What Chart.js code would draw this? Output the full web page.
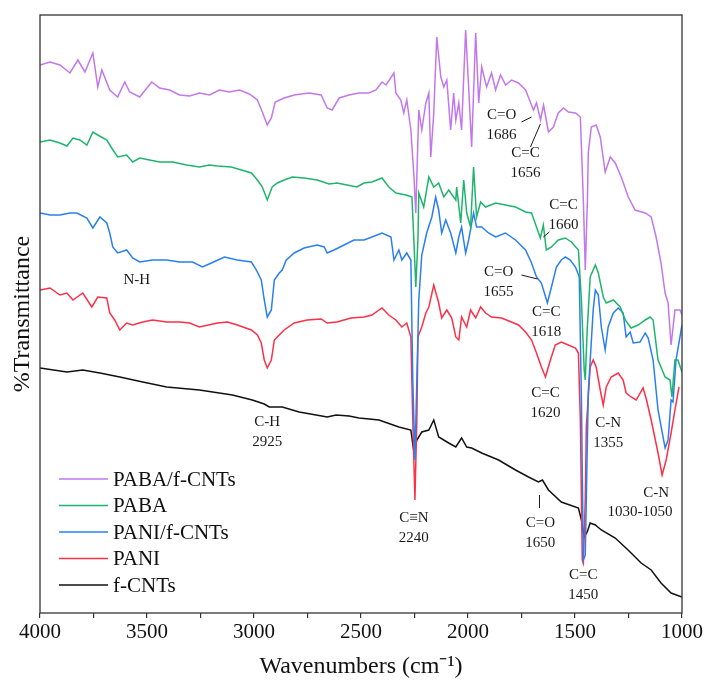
<!DOCTYPE html>
<html>
<head>
<meta charset="utf-8">
<script src="https://cdn.jsdelivr.net/npm/chart.js@4.4.1/dist/chart.umd.min.js"></script>
<style>
  html, body { margin: 0; padding: 0; background: #fff; }
  #wrap { width: 705px; height: 681px; }
</style>
</head>
<body>
<div id="wrap"><canvas id="ftir" width="705" height="681"></canvas></div>
<script>
// Wavenumbers (cm-1) and transmittance (arbitrary offset units)
const pabaCntWn = [4000,3953,3907,3860,3823,3790,3753,3730,3711,3674,
  3637,3604,3581,3534,3478,3441,3394,3348,3301,3255,
  3208,3162,3115,3068,3022,2984,2961,2938,2919,2901,
  2859,2812,2742,2686,2658,2635,2602,2556,2509,2463,
  2430,2402,2383,2346,2337,2314,2300,2286,2267,2253,
  2244,2230,2216,2197,2183,2174,2160,2146,2127,2113,
  2099,2081,2067,2057,2043,2030,2011,1997,1983,1964,
  1950,1936,1913,1890,1871,1848,1824,1797,1764,1731,
  1694,1680,1661,1647,1624,1601,1578,1554,1531,1498,
  1475,1461,1452,1442,1438,1424,1401,1382,1359,1335,
  1312,1284,1251,1219,1172,1144,1121,1098,1079,1065,
  1051,1033,1009,1000];
const pabaCntT = [109.6,110.2,109.6,108,110.6,108.2,112,105.2,108.6,104.6,
  103.2,106.2,104.2,103.2,106.2,105,104.6,103.6,103.4,104,
  103.6,104.6,104.2,104.6,103.8,102.6,100.2,97.6,99,102.2,
  103,103.6,104,103.6,101,100.6,103,103.6,104,104,
  104.6,106.2,105.6,108,104,102.6,100,102.6,96.6,87.6,
  80,100.6,96.6,102,104,91.2,100,115.2,107.2,105.2,
  106.6,96.6,104,98.6,102,96.6,116.6,105.2,93.2,116,
  102,109.2,105.2,108,104.6,107.6,105.6,106.6,106,104.6,
  100.6,102,98.6,101.6,96.2,97.2,100,101,100.2,100,
  99.2,82.6,68.6,82.6,92,97.2,97.6,95.2,88.2,91.2,
  90,87.2,83.2,80.6,80,79.2,75.2,70,64,62,
  53.6,60.6,60.6,59.6];

const pabaWn = [4000,3953,3907,3874,3846,3814,3781,3753,3730,3688,
  3665,3637,3595,3567,3534,3488,3441,3380,3315,3255,
  3208,3171,3106,3059,3012,2984,2961,2938,2915,2891,
  2859,2821,2766,2705,2649,2612,2565,2519,2486,2449,
  2402,2370,2337,2290,2262,2253,2244,2234,2230,2207,
  2183,2160,2137,2113,2090,2057,2053,2034,2020,2006,
  1988,1974,1960,1941,1918,1871,1825,1778,1731,1703,
  1680,1662,1648,1634,1610,1578,1545,1517,1484,1470,
  1457,1452,1443,1429,1405,1391,1368,1354,1321,1289,
  1265,1238,1205,1172,1149,1135,1112,1079,1056,1047,
  1033,1019,1000];
const pabaT = [94.2,94.6,94,93.4,95,94.6,93.6,96.2,95.6,94.6,
  93,91.2,91.6,90.2,91,90.6,90.2,90.2,89.6,89.2,
  89.6,89.4,89.2,88.6,88,86.6,85.2,82.6,85.2,86,
  86.6,87.2,87,86.6,85.8,86,85.6,85.2,86,86.2,
  87,85.2,84,83.6,83.2,74.6,65.2,74.6,84,81.2,
  87.2,85.2,86,83.2,84.6,82.6,85.2,78,86.6,80,
  77.2,89.2,79.2,82.2,81.2,82,81.6,81.2,80.2,80,
  77.2,75,77.6,72.6,73.2,74.6,75,74.2,72.6,62.6,
  48.6,46.6,56.6,67.2,69.6,68,63.2,62,62.6,61.2,
  58.6,57,57.6,58.6,59.2,58.6,50.6,47.2,46.6,43.2,
  50.6,50.6,48.2];

const paniCntWn = [4000,3953,3907,3860,3828,3781,3753,3720,3688,3674,
  3660,3637,3595,3567,3534,3474,3408,3348,3287,3241,
  3199,3138,3078,3012,2989,2966,2952,2938,2919,2905,
  2882,2868,2849,2812,2766,2705,2672,2658,2626,2579,
  2533,2486,2449,2402,2360,2346,2323,2309,2286,2267,
  2258,2248,2239,2230,2216,2193,2169,2151,2137,2123,
  2104,2081,2057,2043,2030,2011,1997,1974,1960,1936,
  1904,1871,1825,1778,1731,1703,1680,1657,1629,1610,
  1587,1564,1545,1522,1498,1480,1470,1461,1452,1438,
  1415,1405,1391,1377,1359,1345,1321,1298,1275,1261,
  1242,1228,1196,1172,1158,1135,1112,1079,1065,1051,
  1042,1028,1000];
const paniCntT = [80,79.6,79.6,80,80,79,77,79.2,78,76,
  73.2,72,72.6,71,70.2,70.6,70.6,70.2,70.2,69.2,
  70,71.2,70.6,70.2,68.6,66.6,62.6,59.2,60.6,66.6,
  68,68.6,70.6,72,73,73.6,73.2,72,72.6,73.6,
  74.6,74.6,75.2,76,75.2,70.6,72.6,70.6,72,70.6,
  46.6,30.6,46.6,62.6,71.6,76,79.2,83.2,80.6,76,
  78.6,76,72,75.2,77.2,72,74.6,80,77.2,77.2,
  76,75.2,76,74.6,72.6,70,67.2,66,62,65.2,
  69.2,70.6,71.2,70.6,69.2,67.2,42.6,10.6,11.6,44,
  60.6,64.6,63.6,57.2,52.6,57.2,60,61,60,55.2,
  56.2,54,54.2,56,55,50.6,40.6,33,34.6,42.6,
  42.2,50.6,57.6];

const paniWn = [4000,3953,3907,3874,3846,3800,3758,3730,3688,3674,
  3651,3627,3595,3567,3520,3474,3408,3348,3301,3255,
  3171,3124,3078,3012,2984,2966,2952,2938,2919,2905,
  2882,2859,2812,2752,2686,2658,2612,2547,2486,2449,
  2402,2370,2337,2309,2286,2267,2258,2248,2239,2234,
  2216,2197,2183,2160,2137,2123,2099,2076,2057,2043,
  2030,2006,1988,1964,1941,1918,1890,1843,1797,1764,
  1731,1703,1680,1657,1638,1615,1592,1564,1531,1498,
  1484,1475,1466,1461,1452,1447,1429,1415,1401,1382,
  1368,1354,1331,1298,1275,1261,1238,1214,1182,1168,
  1144,1112,1093,1074,1051,1033,1014];
const paniT = [64.6,65,63.6,64,62.6,64,61.2,63.2,63,60,
  58.6,56.6,58,57.6,58.2,58.6,58.2,58.2,58,57.2,
  58,58.2,57.6,56.6,55.6,54,50.6,49,50.6,54.6,
  55.6,56.6,58,58.6,58.8,58,58.2,59,59.2,59.6,
  61,59.6,58.6,57.2,58,55.2,38.6,22.6,38.6,55.2,
  57.2,60,61.2,65.6,62,59,60.6,59,55.2,54.6,
  59.2,57.2,60.6,59,61.2,60,59.2,59,58.2,57.6,
  56.2,54.6,52,49.2,47.2,50.6,53.6,54.2,53.6,53,
  52,38.6,10.6,10,22.6,37.2,49.2,50.6,49.2,44.6,
  41.6,45.2,47.2,48,46.6,44,43.2,42.6,45,43,
  38.6,32,27.6,30.6,36,40.6,45.2];

const cntWn = [4000,3874,3800,3720,3627,3520,3408,3255,3101,3008,
  2952,2929,2868,2789,2710,2658,2616,2556,2509,2416,
  2323,2267,2253,2239,2216,2183,2160,2137,2090,2057,
  2030,2006,1983,1936,1857,1778,1717,1671,1652,1624,
  1564,1484,1470,1457,1443,1429,1405,1377,1312,1252,
  1191,1144,1098,1051,1000];
const cntT = [49,48.2,48.6,48,47.2,46.2,45.2,44.6,43.6,42.6,
  41.8,41.2,41.2,40.2,39.6,39.2,39.6,39.4,39,38.6,
  37.2,36.6,32.2,34.6,36.2,36.6,38.6,35.2,34,33.2,
  35,33.2,33,32,30.6,28.6,27.2,26.2,26.6,24.6,
  22.2,21,18.6,15.2,16.2,18,17.6,16.6,15,12.6,
  10,8.6,6,4,3.2];

const seriesNames = ["PABA/f-CNTs", "PABA", "PANI/f-CNTs", "PANI", "f-CNTs"];
const seriesColors = ["#c278ec", "#1fb46c", "#2a7ff0", "#fc3048", "#111111"];

// Band assignments written on the plot: [wavenumber, transmittance, lines]
const peakLabels = [
  [1843, 99.6, ["C=O", "1686"]],
  [1731, 92, ["C=C", "1656"]],
  [1554, 81.6, ["C=C", "1660"]],
  [1857, 68.2, ["C=O", "1655"]],
  [1634, 60.2, ["C=C", "1618"]],
  [3548, 66.6, ["N-H"]],
  [2938, 38.2, ["C-H", "2925"]],
  [1638, 44, ["C=C", "1620"]],
  [1345, 38, ["C-N", "1355"]],
  [2253, 19, ["C\u2261N", "2240"]],
  [1662, 18, ["C=O", "1650"]],
  [1461, 7.6, ["C=C", "1450"]],
  [1121, 24, ["C-N"]],
  [1196, 20.2, ["1030-1050"]]
];
const leaderLines = [
  [1750, 98.2, 1703, 99.2],
  [1708, 93.2, 1662, 97.8],
  [1648, 75.2, 1620, 76.2],
  [1750, 67.6, 1675, 66.8],
  [1666, 23.6, 1666, 21]
];

const serif = '"Liberation Serif", "Times New Roman", serif';

const decorations = {
  id: 'decorations',
  afterDatasetsDraw(chart) {
    const { ctx, chartArea: a, scales: { x, y } } = chart;
    ctx.save();

    // frame around the plot
    ctx.strokeStyle = '#333';
    ctx.lineWidth = 1.3;
    ctx.strokeRect(a.left, a.top, a.right - a.left, a.bottom - a.top);

    // band labels
    ctx.fillStyle = '#1a1a1a';
    ctx.font = '15px ' + serif;
    ctx.textAlign = 'center';
    ctx.textBaseline = 'middle';
    peakLabels.forEach(([wn, t, lines]) => {
      const px = x.getPixelForValue(wn);
      const py = y.getPixelForValue(t);
      lines.forEach((s, i) => ctx.fillText(s, px, py + i * 20));
    });
    ctx.strokeStyle = '#1a1a1a';
    ctx.lineWidth = 1;
    leaderLines.forEach(([w1, t1, w2, t2]) => {
      ctx.beginPath();
      ctx.moveTo(x.getPixelForValue(w1), y.getPixelForValue(t1));
      ctx.lineTo(x.getPixelForValue(w2), y.getPixelForValue(t2));
      ctx.stroke();
    });

    // legend, bottom left inside the plot
    ctx.font = '21px ' + serif;
    ctx.textAlign = 'left';
    chart.data.datasets.forEach((ds, i) => {
      const ly = a.bottom - 134 + i * 26.5;
      ctx.strokeStyle = ds.borderColor;
      ctx.lineWidth = 1.5;
      ctx.beginPath();
      ctx.moveTo(a.left + 19, ly);
      ctx.lineTo(a.left + 68, ly);
      ctx.stroke();
      ctx.fillStyle = '#111';
      ctx.fillText(ds.label, a.left + 73, ly + 1);
    });
    ctx.restore();
  }
};

const traces = [
  [pabaCntWn, pabaCntT],
  [pabaWn, pabaT],
  [paniCntWn, paniCntT],
  [paniWn, paniT],
  [cntWn, cntT]
];

new Chart(document.getElementById('ftir'), {
  type: 'line',
  data: {
    datasets: traces.map(([wn, t], i) => ({
      label: seriesNames[i],
      data: wn.map((w, k) => ({ x: w, y: t[k] })),
      borderColor: seriesColors[i],
      borderWidth: 1.5,
      pointRadius: 0,
      tension: 0,
      fill: false
    }))
  },
  options: {
    responsive: false,
    animation: false,
    layout: { padding: { top: 15, right: 21, left: 0, bottom: 0 } },
    plugins: {
      legend: { display: false },
      tooltip: { enabled: false }
    },
    scales: {
      x: {
        type: 'linear',
        reverse: true,
        min: 1000,
        max: 4000,
        afterFit(scale) { scale.height = 68; },
        border: { display: false },
        grid: { drawOnChartArea: false, drawTicks: true, tickLength: 5, color: '#333', lineWidth: 1.2 },
        ticks: {
          stepSize: 250,
          autoSkip: false,
          maxRotation: 0,
          padding: 2,
          color: '#111',
          font: { family: serif, size: 21 },
          callback: v => (v % 500 === 0 ? v : '')
        },
        title: {
          display: true,
          text: 'Wavenumbers (cm\u207B\u00B9)',
          color: '#111',
          font: { family: serif, size: 24 },
          padding: { top: 0, bottom: 0 }
        }
      },
      y: {
        min: 0,
        max: 119.6,
        afterFit(scale) { scale.width = 40; },
        border: { display: false },
        grid: { display: false },
        ticks: { display: false },
        title: {
          display: true,
          text: '%Transmittance',
          color: '#111',
          font: { family: serif, size: 24 },
          padding: { top: 8, bottom: 0 }
        }
      }
    }
  },
  plugins: [decorations]
});
</script>
</body>
</html>
